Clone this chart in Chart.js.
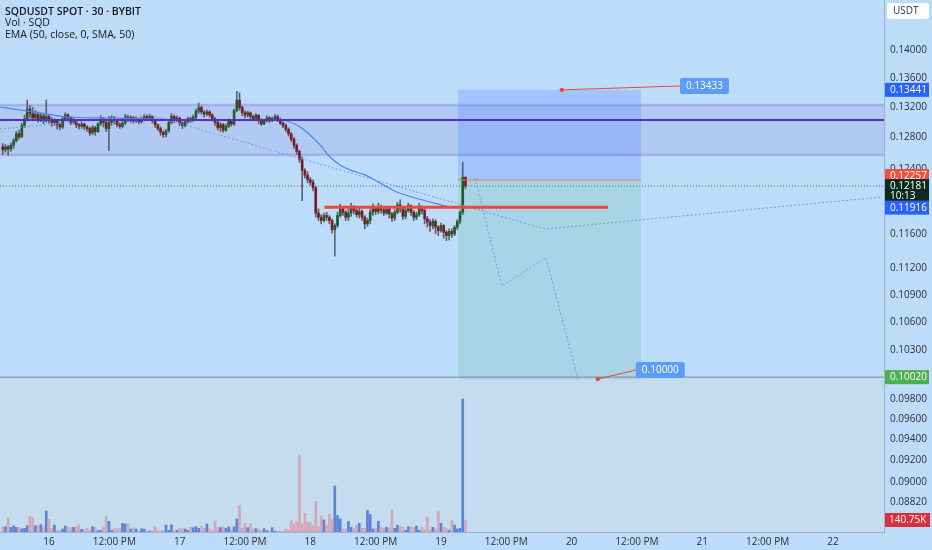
<!DOCTYPE html>
<html><head><meta charset="utf-8">
<script src="https://cdn.jsdelivr.net/npm/chart.js@4.4.1/dist/chart.umd.min.js"></script>
<style>
html,body{margin:0;padding:0;background:#bcdcfa;}
#wrap{position:relative;width:932px;height:550px;overflow:hidden;}
canvas{display:block;}
</style></head><body>
<div id="wrap"><canvas id="c" width="932" height="550"></canvas></div>
<script>
// ---------- DATA ----------
const firstBarHour = 15.5;   // hours since day 15 00:00 (30-minute bars)
const barHours = 0.5;
const firstOpen = 0.1268;
const closes = [
0.1264,0.1268,0.1265,0.1270,0.1276,0.1285,0.1281,0.1296,0.1305,0.1318,
0.1312,0.1306,0.1311,0.1305,0.1309,0.1303,0.1308,0.1304,0.1300,0.1302,
0.1297,0.1294,0.1305,0.1310,0.1306,0.1300,0.1303,0.1297,0.1295,0.1298,
0.1294,0.1292,0.1286,0.1293,0.1288,0.1298,0.1305,0.1300,0.1292,0.1300,
0.1306,0.1302,0.1297,0.1295,0.1299,0.1308,0.1304,0.1307,0.1302,0.1305,
0.1301,0.1304,0.1308,0.1305,0.1308,0.1302,0.1297,0.1292,0.1287,0.1284,
0.1289,0.1300,0.1308,0.1304,0.1306,0.1299,0.1296,0.1301,0.1305,0.1303,
0.1307,0.1315,0.1320,0.1314,0.1311,0.1314,0.1310,0.1305,0.1300,0.1293,
0.1297,0.1290,0.1295,0.1302,0.1298,0.1316,0.1330,0.1320,0.1313,0.1310,
0.1313,0.1308,0.1305,0.1310,0.1303,0.1298,0.1302,0.1306,0.1303,0.1305,
0.1308,0.1304,0.1299,0.1296,0.1291,0.1285,0.1278,0.1270,0.1262,0.1252,
0.1238,0.1232,0.1226,0.1223,0.1216,0.1185,0.1180,0.1176,0.1182,0.1180,
0.1176,0.1165,0.1170,0.1182,0.1190,0.1186,0.1180,0.1185,0.1192,0.1188,
0.1183,0.1187,0.1180,0.1172,0.1176,0.1186,0.1191,0.1187,0.1193,0.1189,
0.1185,0.1190,0.1184,0.1179,0.1186,0.1195,0.1190,0.1181,0.1188,0.1194,
0.1186,0.1180,0.1183,0.1192,0.1188,0.1178,0.1174,0.1170,0.1175,0.1168,
0.1164,0.1170,0.1162,0.1158,0.1163,0.1160,0.1168,0.1175,0.1186,0.1229,0.12181];
const highs = [
0.1272,0.1271,0.1270,0.1273,0.1279,0.1288,0.1290,0.1299,0.1310,0.1330,
0.1323,0.1320,0.1316,0.1314,0.1312,0.1311,0.1330,0.1311,0.1307,0.1305,
0.1304,0.1300,0.1308,0.1313,0.1312,0.1308,0.1306,0.1304,0.1299,0.1301,
0.1299,0.1296,0.1294,0.1296,0.1295,0.1300,0.1309,0.1307,0.1302,0.1308,
0.1309,0.1308,0.1304,0.1300,0.1302,0.1311,0.1310,0.1309,0.1308,0.1307,
0.1306,0.1307,0.1311,0.1310,0.1311,0.1309,0.1303,0.1298,0.1294,0.1289,
0.1291,0.1303,0.1312,0.1310,0.1309,0.1307,0.1301,0.1304,0.1307,0.1307,
0.1310,0.1318,0.1326,0.1322,0.1316,0.1317,0.1316,0.1312,0.1307,0.1302,
0.1300,0.1299,0.1298,0.1305,0.1304,0.1318,0.1342,0.1340,0.1322,0.1316,
0.1315,0.1314,0.1310,0.1312,0.1310,0.1305,0.1304,0.1309,0.1308,0.1307,
0.1311,0.1310,0.1306,0.1301,0.1298,0.1293,0.1287,0.1280,0.1272,0.1264,
0.1255,0.1240,0.1236,0.1229,0.1226,0.1218,0.1190,0.1183,0.1185,0.1186,
0.1182,0.1178,0.1172,0.1186,0.1196,0.1193,0.1188,0.1190,0.1197,0.1194,
0.1190,0.1191,0.1189,0.1182,0.1179,0.1189,0.1196,0.1193,0.1197,0.1195,
0.1191,0.1192,0.1191,0.1186,0.1189,0.1198,0.1201,0.1192,0.1191,0.1197,
0.1195,0.1188,0.1186,0.1197,0.1194,0.1190,0.1181,0.1177,0.1178,0.1177,
0.1170,0.1173,0.1171,0.1164,0.1166,0.1166,0.1170,0.1177,0.1188,0.1248,0.1230];
const lows = [
0.1258,0.1261,0.1257,0.1262,0.1266,0.1274,0.1278,0.1280,0.1293,0.1302,
0.1306,0.1302,0.1303,0.1300,0.1301,0.1298,0.1300,0.1299,0.1295,0.1296,
0.1291,0.1290,0.1292,0.1302,0.1302,0.1297,0.1298,0.1293,0.1291,0.1292,
0.1290,0.1288,0.1283,0.1284,0.1283,0.1287,0.1296,0.1294,0.1288,0.1263,
0.1296,0.1298,0.1294,0.1292,0.1293,0.1297,0.1301,0.1300,0.1299,0.1300,
0.1298,0.1299,0.1302,0.1303,0.1304,0.1299,0.1293,0.1289,0.1283,0.1280,
0.1281,0.1287,0.1298,0.1300,0.1301,0.1296,0.1292,0.1294,0.1299,0.1300,
0.1301,0.1305,0.1312,0.1311,0.1307,0.1309,0.1307,0.1302,0.1296,0.1290,
0.1288,0.1287,0.1288,0.1293,0.1295,0.1296,0.1314,0.1316,0.1309,0.1306,
0.1307,0.1305,0.1302,0.1303,0.1298,0.1296,0.1297,0.1301,0.1300,0.1301,
0.1303,0.1301,0.1297,0.1293,0.1288,0.1282,0.1275,0.1266,0.1258,0.1248,
0.1200,0.1228,0.1222,0.1219,0.1212,0.1180,0.1176,0.1172,0.1174,0.1176,
0.1172,0.1161,0.1134,0.1168,0.1180,0.1182,0.1176,0.1176,0.1181,0.1184,
0.1180,0.1179,0.1176,0.1166,0.1169,0.1172,0.1182,0.1183,0.1184,0.1185,
0.1182,0.1183,0.1179,0.1175,0.1176,0.1184,0.1186,0.1177,0.1178,0.1186,
0.1182,0.1176,0.1177,0.1181,0.1184,0.1172,0.1168,0.1163,0.1166,0.1160,
0.1158,0.1162,0.1155,0.1152,0.1153,0.1156,0.1158,0.1165,0.1172,0.1183,0.1215];
// volume in thousands of SQD
const volumes = [
62,62,160,55,74,55,55,35,43,74,
180,172,74,74,86,62,246,149,43,82,
20,15,35,70,62,51,55,62,82,30,
35,43,20,62,55,15,20,62,180,125,
20,39,43,39,102,94,94,35,51,35,
15,39,35,12,10,15,62,15,10,20,
82,20,86,15,20,43,35,35,20,55,
51,62,43,70,43,94,35,20,129,51,
51,62,43,62,35,62,153,313,43,102,
51,94,35,39,35,15,39,15,12,51,
10,12,8,10,35,20,129,94,117,903,
94,219,117,113,74,360,62,188,141,82,
207,153,540,192,153,35,35,125,55,35,
82,102,43,43,254,207,35,43,125,55,
43,55,43,258,43,82,62,58,20,62,
62,55,70,20,55,30,176,20,55,35,
239,102,55,35,20,141,82,35,43,1560,140.75];

const emaHours  = [15.0,18.67,22.35,27.31,33.37,42.55,51.73,60.92,66.43,68.27,70.1,71.94,73.78,75.61,77.45,79.29,82.04,84.8,87.92,93.98,97.65,100.41];
const emaValues = [0.13207,0.13167,0.13127,0.13073,0.1306,0.13047,0.13033,0.13033,0.13033,0.13006,0.1294,0.12835,0.12705,0.12549,0.12448,0.12385,0.12322,0.1222,0.12108,0.11985,0.11925,0.11916];

const trendHours  = [15.0, 42.55, 115.1, 177.0];
const trendValues = [0.12913, 0.1310, 0.11658, 0.12046];
const pathHours   = [102.25, 107.2, 115.3, 121.2];
const pathValues  = [0.1228, 0.1100, 0.1132, 0.0999];

const bandTop = 0.13234, bandBottom = 0.12575, bandMid = 0.13033;
const supportLevel = 0.1192, supportHours = [74.6, 126.7];
const positionHours = [99.13, 132.74];
const entryPrice = 0.12257, stopPrice = 0.13441, targetPrice = 0.1000;
const lastPrice = 0.12181, lastBarTimer = '10:13';
const floorLevel = 0.1002;
const emaLast = 0.11916;

const callouts = [
  {hour:118.2, price:0.13441, labelHour:139.9, labelPrice:0.13494, text:'0.13433'},
  {hour:124.8, price:0.1000,  labelHour:131.8, labelPrice:0.10093, text:'0.10000'}
];

const priceTicks = [0.14,0.136,0.132,0.128,0.124,0.116,0.112,0.109,0.106,0.103,0.098,0.096,0.094,0.092,0.090,0.0882];
const xTickHours  = [24,36,48,60,72,84,96,108,120,132,144,156,168];
const xTickLabels = ['16','12:00 PM','17','12:00 PM','18','12:00 PM','19','12:00 PM','20','12:00 PM','21','12:00 PM','22'];
const legendLines = ['SQDUSDT SPOT · 30 · BYBIT','Vol · SQD','EMA (50, close, 0, SMA, 50)'];

// ---------- VIEW ----------
const xMin = 15.0, xMax = 177.38;
const yMin = 0.085528, yMax = 0.14734;
const volMax = 6240;
const FONT = '"Open Sans", "DejaVu Sans", sans-serif';
const UP = '#1f5c29', DOWN = '#7c1a22', WICK = '#56636f';
const VOL_UP = '#5a84d8', VOL_DOWN = '#d5a6b7';

const hours = closes.map((_, k) => firstBarHour + k * barHours);
const opens = closes.map((c, k) => k === 0 ? firstOpen : closes[k - 1]);
const isUp = closes.map((c, k) => c >= opens[k]);

const flat = (price) => [{x:xMin, y:price}, {x:xMax, y:price}];
const pts = (hs, vs) => hs.map((h, i) => ({x:h, y:vs[i]}));

const lineDs = (data, color, width, dash, order, extra) => Object.assign({
  type:'line', data, borderColor:color, borderWidth:width, borderDash:dash || [],
  pointRadius:0, fill:false, tension:0, order, yAxisID:'y'
}, extra || {});

const datasets = [
  {type:'bar', yAxisID:'yVol', order:20, grouped:false, barThickness:2,
   data: hours.map((h,k)=>({x:h, y:volumes[k]})),
   backgroundColor: isUp.map(u => u ? VOL_UP : VOL_DOWN)},
  {type:'bar', yAxisID:'y', order:3, grouped:false, barThickness:1,
   data: hours.map((h,k)=>({x:h, y:[lows[k], highs[k]]})),
   backgroundColor: WICK},
  {type:'bar', yAxisID:'y', order:2, grouped:false, barThickness:2, minBarLength:1,
   data: hours.map((h,k)=>({x:h, y:[opens[k], closes[k]]})),
   backgroundColor: isUp.map(u => u ? UP : DOWN)},
  lineDs(flat(floorLevel), '#6f8ea6', 1, null, 8),
  lineDs(flat(lastPrice), 'rgba(80,90,100,0.85)', 1, [1,2], 7),
  lineDs(flat(bandTop), 'rgba(110,95,205,0.30)', 2.5, null, 6),
  lineDs(flat(bandBottom), 'rgba(110,95,205,0.30)', 2.5, null, 6),
  lineDs(flat(bandMid), '#5630c0', 2, null, 1),
  lineDs(pts(trendHours, trendValues), '#6c9ff0', 1, [2,2], 1),
  lineDs(pts(pathHours, pathValues), '#6c9ff0', 1, [2,2], 1),
  lineDs(pts(emaHours, emaValues), '#4a86ee', 1.2, null, 1, {tension:0.3, cubicInterpolationMode:'monotone'}),
  lineDs(pts(supportHours, [supportLevel, supportLevel]), '#f2463a', 3, null, 0),
  lineDs(pts(positionHours, [entryPrice, entryPrice]), '#f07a4e', 1, null, 0)
];

function roundRect(ctx, x, y, w, h, r) {
  ctx.beginPath();
  ctx.moveTo(x + r, y); ctx.lineTo(x + w - r, y); ctx.quadraticCurveTo(x + w, y, x + w, y + r);
  ctx.lineTo(x + w, y + h - r); ctx.quadraticCurveTo(x + w, y + h, x + w - r, y + h);
  ctx.lineTo(x + r, y + h); ctx.quadraticCurveTo(x, y + h, x, y + h - r);
  ctx.lineTo(x, y + r); ctx.quadraticCurveTo(x, y, x + r, y); ctx.closePath();
}

const axisMarks = [
  {value:stopPrice, bg:'#2962ff', fg:'#fff', text:'0.13441'},
  {value:entryPrice, bg:'#f0513e', fg:'#fff', text:'0.12257', nudge:-4},
  {value:lastPrice, bg:'#0c2a1d', fg:'#fff', text:'0.12181', sub:lastBarTimer},
  {value:emaLast, bg:'#2962ff', fg:'#fff', text:'0.11916'},
  {value:floorLevel, bg:'#4caf50', fg:'#fff', text:'0.10020'}
];

const drawings = {
  id:'drawings',
  beforeDatasetsDraw(chart) {
    const {ctx, chartArea:a, scales:{x, y}} = chart;
    ctx.save();
    ctx.beginPath(); ctx.rect(a.left, a.top, a.width, a.height); ctx.clip();
    const yf = y.getPixelForValue(floorLevel);
    ctx.fillStyle = '#c4dcee';
    ctx.fillRect(a.left, yf, a.width, a.bottom - yf);
    const bt = y.getPixelForValue(bandTop), bb = y.getPixelForValue(bandBottom);
    ctx.fillStyle = 'rgba(103,58,183,0.11)';
    ctx.fillRect(a.left, bt, a.width, bb - bt);
    const px0 = x.getPixelForValue(positionHours[0]), px1 = x.getPixelForValue(positionHours[1]);
    const ps = y.getPixelForValue(stopPrice), pe = y.getPixelForValue(entryPrice), pt = y.getPixelForValue(targetPrice);
    ctx.fillStyle = 'rgba(41,98,255,0.19)';
    ctx.fillRect(px0, ps, px1 - px0, pe - ps);
    ctx.fillStyle = 'rgba(100,180,150,0.22)';
    ctx.fillRect(px0, pe, px1 - px0, pt - pe);
    ctx.restore();
  },
  afterDraw(chart) {
    const {ctx, chartArea:a, scales:{x, y, yVol}} = chart;
    ctx.save();
    callouts.forEach(c => {
      const dx = x.getPixelForValue(c.hour), dy = y.getPixelForValue(c.price);
      const lx = x.getPixelForValue(c.labelHour), ly = y.getPixelForValue(c.labelPrice);
      ctx.strokeStyle = '#f0453a'; ctx.lineWidth = 1;
      ctx.beginPath(); ctx.moveTo(dx, dy); ctx.lineTo(lx, ly); ctx.stroke();
      ctx.fillStyle = '#f0453a';
      ctx.beginPath(); ctx.arc(dx, dy, 2.2, 0, Math.PI * 2); ctx.fill();
      ctx.font = '10px ' + FONT;
      const w = ctx.measureText(c.text).width + 12;
      ctx.fillStyle = '#5b9cf6';
      roundRect(ctx, lx, ly - 8, w, 16, 2); ctx.fill();
      ctx.fillStyle = '#ffffff'; ctx.textAlign = 'left'; ctx.textBaseline = 'middle';
      ctx.fillText(c.text, lx + 6, ly + 0.5);
    });
    const ax = a.right + 1;
    ctx.font = '10px ' + FONT; ctx.textBaseline = 'middle'; ctx.textAlign = 'left';
    axisMarks.forEach(m => {
      const py = y.getPixelForValue(m.value) + (m.nudge || 0);
      const h = m.sub ? 22 : 14;
      ctx.fillStyle = m.bg;
      ctx.fillRect(ax, py - 7, 44, h);
      ctx.fillStyle = m.fg;
      ctx.fillText(m.text, ax + 5, py + 0.5);
      if (m.sub) ctx.fillText(m.sub, ax + 5, py + 10);
    });
    const vy = yVol.getPixelForValue(volumes[volumes.length - 1]);
    ctx.fillStyle = '#dc2f3d';
    ctx.fillRect(ax, vy - 7, 45, 14);
    ctx.fillStyle = '#fff';
    ctx.fillText(volumes[volumes.length - 1].toFixed(2) + 'K', ax + 4, vy + 0.5);
    ctx.fillStyle = '#ffffff';
    roundRect(ctx, a.right + 3, 3, 42, 16, 3); ctx.fill();
    ctx.fillStyle = '#2a2e39';
    ctx.fillText('USDT', a.right + 9, 11.5);
    ctx.fillStyle = '#131722';
    legendLines.forEach((t, i) => {
      ctx.font = (i === 0 ? '600 ' : '') + '10.5px ' + FONT;
      ctx.fillText(t, 5, 12 + i * 11.5);
    });
    ctx.restore();
  }
};

new Chart(document.getElementById('c'), {
  type:'bar',
  data:{datasets},
  options:{
    responsive:false, animation:false, events:[],
    layout:{padding:0},
    plugins:{legend:{display:false}, tooltip:{enabled:false}},
    scales:{
      x:{type:'linear', min:xMin, max:xMax, offset:false, position:'bottom',
         grid:{display:false, drawTicks:false},
         border:{display:true, color:'rgba(110,135,160,0.45)'},
         afterBuildTicks:s => { s.ticks = xTickHours.map(v => ({value:v})); },
         afterFit:s => { s.height = 18; s.paddingLeft = 0; s.paddingRight = 0; },
         ticks:{autoSkip:false, maxRotation:0, padding:4, color:'#2a2e39', font:{family:FONT, size:10},
                callback:v => xTickLabels[xTickHours.indexOf(v)]}},
      y:{type:'logarithmic', min:yMin, max:yMax, position:'right', bounds:'data',
         grid:{display:false, drawTicks:false},
         border:{display:true, color:'rgba(110,135,160,0.45)'},
         afterBuildTicks:s => { s.ticks = priceTicks.map(v => ({value:v})); },
         afterFit:s => { s.width = 48; s.paddingTop = 0; s.paddingBottom = 0; },
         ticks:{autoSkip:false, padding:6, color:'#2a2e39', font:{family:FONT, size:10},
                callback:v => Number(v).toFixed(5)}},
      yVol:{type:'linear', display:false, min:0, max:volMax}
    }
  },
  plugins:[drawings]
});
</script>
</body></html>
